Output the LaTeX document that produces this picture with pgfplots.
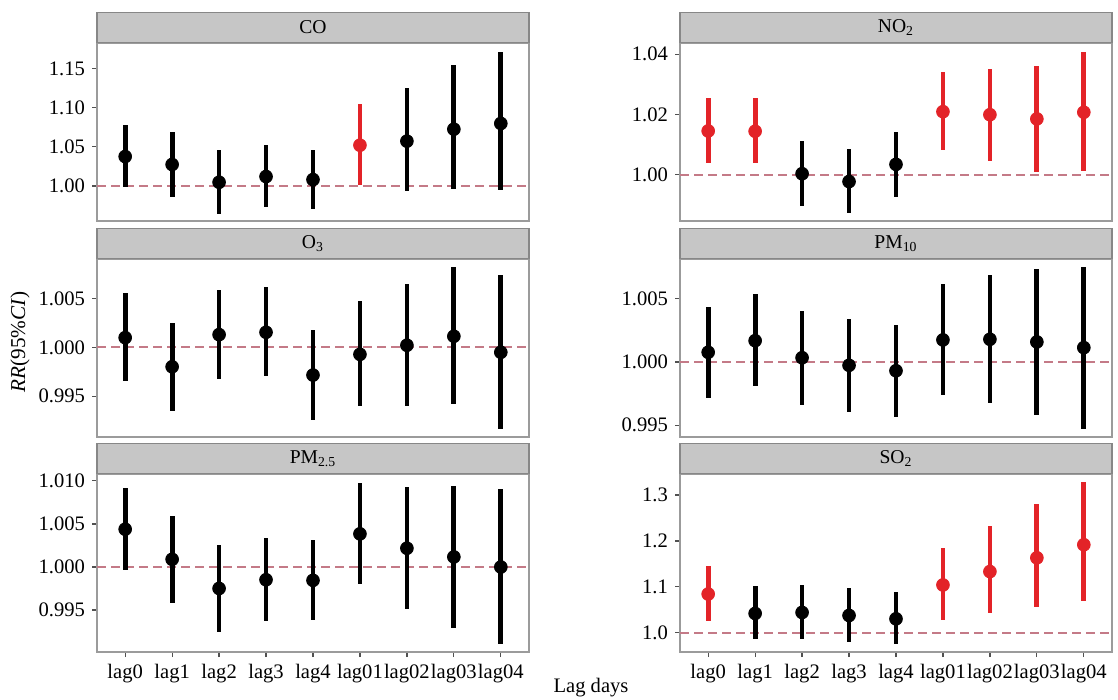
\documentclass[border=0pt]{standalone}
\usepackage{fontspec}
\setmainfont{Liberation Serif}
\usepackage{pgfplots}
\pgfplotsset{compat=1.18}
\definecolor{bordergray}{RGB}{155,155,155}
\definecolor{stripgray}{RGB}{198,198,198}
\definecolor{stripborder}{RGB}{135,135,135}
\definecolor{tickgray}{RGB}{80,80,80}
\definecolor{ptred}{RGB}{227,35,40}
\definecolor{dashcol}{RGB}{196,122,135}
\pgfplotsset{
  panel/.style={
    scale only axis, width=216pt, height=89pt,
    xmin=-0.6, xmax=8.6,
    axis line style={draw=bordergray, line width=0.7pt},
    tick style={draw=tickgray, line width=0.6pt},
    tick align=outside, major tick length=2.5pt,
    ytick pos=left, xtick pos=bottom,
    /pgf/number format/assume math mode=true,
    ticklabel style={font=\fontsize{10.3}{12}\selectfont, text=black},
    every axis title/.style={at={(0.5,1)}, anchor=south, draw=stripborder, line width=0.7pt, fill=stripgray,
      minimum width=216pt, minimum height=15pt, inner sep=0pt, font=\fontsize{9.8}{11}\selectfont},
  },
  toprow/.style={xtick=\empty},
  botrow/.style={xtick={0,1,2,3,4,5,6,7,8}, xticklabels={lag0,lag1,lag2,lag3,lag4,lag01,lag02,lag03,lag04}},
  ptblack/.style={only marks, mark=*, mark size=3.2pt, color=black,
    error bars/.cd, y dir=both, y explicit, error mark=none, error bar style={line width=2.4pt, color=black}},
  ptred/.style={only marks, mark=*, mark size=3.2pt, color=ptred,
    error bars/.cd, y dir=both, y explicit, error mark=none, error bar style={line width=2.4pt, color=ptred}},
  refline/.style={dashcol, line width=1pt, dash pattern=on 4.5pt off 2.5pt, forget plot},
  /pgfplots/table/errtab/.style={x=x, y=y, y error plus expr=\thisrow{hi}-\thisrow{y}, y error minus expr=\thisrow{y}-\thisrow{lo}, row sep=\\},
}
\begin{document}
\begin{tikzpicture}
\path[use as bounding box] (0,0) rectangle (559pt,-350pt);
% CO
\begin{axis}[panel, toprow, at={(48.5pt,-21.5pt)}, anchor=north west, title={CO},
  ymin=0.9551, ymax=1.1829, ytick={1.00,1.05,1.10,1.15}, yticklabels={1.00,1.05,1.10,1.15}]
\addplot[refline] coordinates {(-0.6,1) (8.6,1)};
\addplot[ptblack] table[errtab] {x y lo hi\\
0 1.0376 0.9980 1.0778\\
1 1.0274 0.9859 1.0688\\
2 1.0047 0.9645 1.0466\\
3 1.0120 0.9735 1.0521\\
4 1.0081 0.9710 1.0466\\
6 1.0573 0.9936 1.1248\\
7 1.0726 0.9966 1.1547\\
8 1.0799 0.9949 1.1718\\
};
\addplot[ptred] table[errtab] {x y lo hi\\
5 1.0521 1.0009 1.1051\\
};
\end{axis}
% NO2
\begin{axis}[panel, toprow, at={(340pt,-21.5pt)}, anchor=north west, title={NO\textsubscript{2}},
  ymin=0.9846, ymax=1.0437, ytick={1.00,1.02,1.04}, yticklabels={1.00,1.02,1.04}]
\addplot[refline] coordinates {(-0.6,1) (8.6,1)};
\addplot[ptblack] table[errtab] {x y lo hi\\
2 1.0003 0.9896 1.0110\\
3 0.9977 0.9871 1.0084\\
4 1.0034 0.9927 1.0141\\
};
\addplot[ptred] table[errtab] {x y lo hi\\
0 1.0145 1.0039 1.0253\\
1 1.0144 1.0037 1.0253\\
5 1.0209 1.0081 1.0340\\
6 1.0199 1.0045 1.0352\\
7 1.0185 1.0009 1.0360\\
8 1.0207 1.0012 1.0408\\
};
\end{axis}
% O3
\begin{axis}[panel, toprow, at={(48.5pt,-129.5pt)}, anchor=north west, title={O\textsubscript{3}},
  ymin=0.99082, ymax=1.00904, ytick={0.995,1.000,1.005}, yticklabels={0.995,1.000,1.005}]
\addplot[refline] coordinates {(-0.6,1) (8.6,1)};
\addplot[ptblack] table[errtab] {x y lo hi\\
0 1.00099 0.99651 1.00551\\
1 0.99801 0.99349 1.00253\\
2 1.00130 0.99678 1.00586\\
3 1.00154 0.99705 1.00613\\
4 0.99716 0.99260 1.00178\\
5 0.99928 0.99397 1.00473\\
6 1.00021 0.99404 1.00644\\
7 1.00113 0.99418 1.00818\\
8 0.99949 0.99164 1.00736\\
};
\end{axis}
% PM10
\begin{axis}[panel, toprow, at={(340pt,-129.5pt)}, anchor=north west, title={PM\textsubscript{10}},
  ymin=0.99407, ymax=1.00815, ytick={0.995,1.000,1.005}, yticklabels={0.995,1.000,1.005}]
\addplot[refline] coordinates {(-0.6,1) (8.6,1)};
\addplot[ptblack] table[errtab] {x y lo hi\\
0 1.00077 0.99714 1.00434\\
1 1.00169 0.99807 1.00537\\
2 1.00034 0.99664 1.00402\\
3 0.99974 0.99606 1.00344\\
4 0.99931 0.99566 1.00296\\
5 1.00175 0.99741 1.00614\\
6 1.00180 0.99675 1.00690\\
7 1.00159 0.99579 1.00735\\
8 1.00114 0.99474 1.00754\\
};
\end{axis}
% PM2.5
\begin{axis}[panel, botrow, at={(48.5pt,-237pt)}, anchor=north west, title={PM\textsubscript{2.5}},
  ymin=0.99013, ymax=1.0108, ytick={0.995,1.000,1.005,1.010}, yticklabels={0.995,1.000,1.005,1.010}]
\addplot[refline] coordinates {(-0.6,1) (8.6,1)};
\addplot[ptblack] table[errtab] {x y lo hi\\
0 1.00439 0.99961 1.00917\\
1 1.00089 0.99580 1.00595\\
2 0.99751 0.99250 1.00256\\
3 0.99852 0.99374 1.00334\\
4 0.99845 0.99390 1.00315\\
5 1.00385 0.99802 1.00975\\
6 1.00218 0.99510 1.00925\\
7 1.00117 0.99297 1.00937\\
8 1.00000 0.99106 1.00905\\
};
\end{axis}
% SO2
\begin{axis}[panel, botrow, at={(340pt,-237pt)}, anchor=north west, title={SO\textsubscript{2}},
  ymin=0.9576, ymax=1.346, ytick={1.0,1.1,1.2,1.3}, yticklabels={1.0,1.1,1.2,1.3}]
\addplot[refline] coordinates {(-0.6,1) (8.6,1)};
\addplot[ptblack] table[errtab] {x y lo hi\\
1 1.0417 0.9854 1.1010\\
2 1.0439 0.9868 1.1039\\
3 1.0373 0.9802 1.0966\\
4 1.0300 0.9744 1.0892\\
};
\addplot[ptred] table[errtab] {x y lo hi\\
0 1.0841 1.0256 1.1456\\
5 1.1039 1.0278 1.1851\\
6 1.1331 1.0424 1.2319\\
7 1.1631 1.0556 1.2809\\
8 1.1917 1.0680 1.3285\\
};
\end{axis}
\node[rotate=90, font=\fontsize{10.6}{12}\selectfont] at (10pt,-171pt) {\textit{RR}(95\%\textit{CI})};
\node[font=\fontsize{10.3}{12}\selectfont] at (295.5pt,-344pt) {Lag days};
\end{tikzpicture}
\end{document}
